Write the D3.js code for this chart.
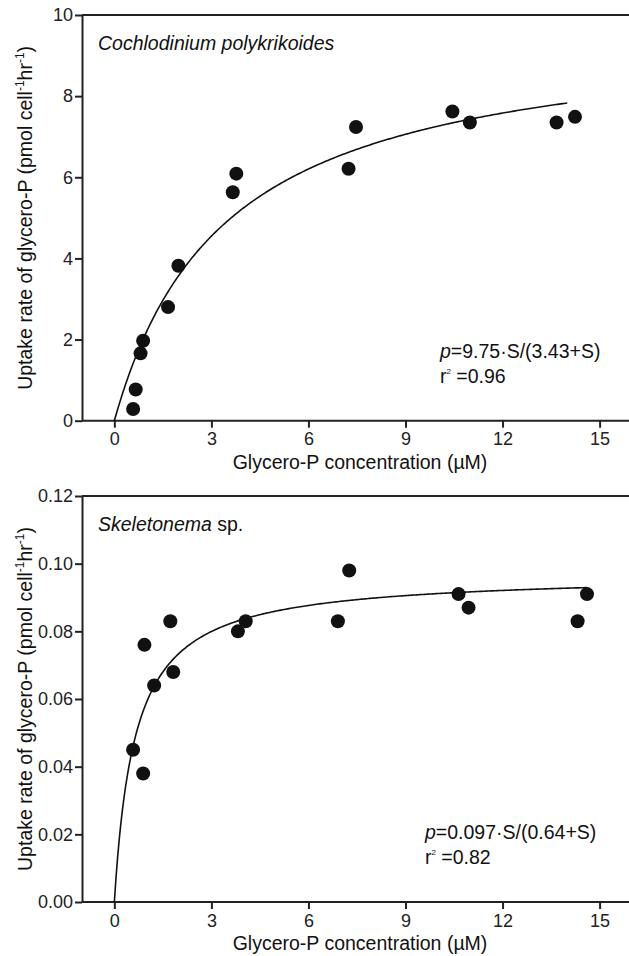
<!DOCTYPE html>
<html>
<head>
<meta charset="utf-8">
<script src="https://cdn.jsdelivr.net/npm/d3@7"></script>
<style>
  body { margin: 0; background: #fff; }
  svg { display: block; font-family: "Liberation Sans", Arial, sans-serif; }
  .axis path, .axis line { stroke: #222; stroke-width: 2; }
  .axis text { font-size: 18px; fill: #222; }
</style>
</head>
<body>
<svg id="chart" width="629" height="956"></svg>
<script>
// data
var xTicks = [0, 3, 6, 9, 12, 15];

// top panel: Cochlodinium polykrikoides
var cpConc = [0.58, 0.66, 0.81, 0.89, 1.66, 1.98, 3.66, 3.77, 7.24, 7.47, 10.45, 10.99, 13.67, 14.24];
var cpRate = [0.29, 0.77, 1.66, 1.97, 2.80, 3.82, 5.63, 6.09, 6.21, 7.24, 7.62, 7.35, 7.35, 7.49];
var cpFit = [9.75, 3.43];   // Vmax, Ks
var cpYTicks = [0, 2, 4, 6, 8, 10];

// bottom panel: Skeletonema sp.
var skConc = [0.58, 0.89, 0.93, 1.23, 1.73, 1.82, 3.82, 4.06, 6.91, 7.26, 10.64, 10.95, 14.32, 14.61];
var skRate = [0.045, 0.038, 0.076, 0.064, 0.083, 0.068, 0.080, 0.083, 0.083, 0.098, 0.091, 0.087, 0.083, 0.091];
var skFit = [0.097, 0.64];
var skYTicks = [0, 0.02, 0.04, 0.06, 0.08, 0.10, 0.12];

var svg = d3.select("#chart");
var fs = 19.5;

function panel(opt) {
  var g = svg.append("g");
  var x = d3.scaleLinear().domain([-1, 16]).range([82, 82 + 17 * 32.35]);
  var y = d3.scaleLinear().domain(opt.yDomain).range([opt.bottom, opt.top]);

  // top frame line
  g.append("line")
    .attr("x1", 82).attr("x2", 629)
    .attr("y1", opt.top).attr("y2", opt.top)
    .attr("stroke", "#222").attr("stroke-width", 2);

  g.append("g").attr("class", "axis")
    .attr("transform", "translate(0," + opt.bottom + ")")
    .call(d3.axisBottom(x).tickValues(xTicks).tickSize(7).tickSizeOuter(0).tickPadding(5))
    .call(function(s) { s.select(".domain").attr("d", "M82,0H629"); });

  g.append("g").attr("class", "axis")
    .attr("transform", "translate(82,0)")
    .call(d3.axisLeft(y).tickValues(opt.yTicks).tickFormat(opt.fmt).tickSize(7).tickSizeOuter(0).tickPadding(2));

  // fitted curve p = Vmax*S/(Ks+S)
  var fitS = d3.range(0, opt.fitEnd + 0.001, 0.05);
  var line = d3.line()
    .x(function(s) { return x(s); })
    .y(function(s) { return y(opt.fit[0] * s / (opt.fit[1] + s)); });
  g.append("path").datum(fitS)
    .attr("d", line)
    .attr("fill", "none").attr("stroke", "#111").attr("stroke-width", 1.6);

  g.selectAll("circle").data(opt.xs)
    .enter().append("circle")
    .attr("cx", function(d) { return x(d); })
    .attr("cy", function(d, i) { return y(opt.ys[i]); })
    .attr("r", 7)
    .attr("fill", "#111");

  // species label
  var sp = g.append("text").attr("x", 98).attr("y", opt.top + 35)
    .attr("font-size", fs).attr("fill", "#111");
  sp.append("tspan").attr("font-style", "italic").text(opt.species);
  if (opt.suffix) sp.append("tspan").text(opt.suffix);

  // equation
  var eq = g.append("text").attr("x", opt.eqX).attr("y", opt.bottom - 63)
    .attr("font-size", fs).attr("fill", "#111");
  eq.append("tspan").attr("font-style", "italic").text("p");
  eq.append("tspan").text(opt.eq);
  var r2 = g.append("text").attr("x", opt.eqX).attr("y", opt.bottom - 38)
    .attr("font-size", fs).attr("fill", "#111");
  r2.append("tspan").text("r");
  r2.append("tspan").attr("font-size", 8).attr("dy", -9).text("2");
  r2.append("tspan").attr("dy", 9).text(" =" + opt.r2);

  // axis titles
  g.append("text")
    .attr("x", 360).attr("y", opt.bottom + 48)
    .attr("text-anchor", "middle").attr("font-size", fs).attr("fill", "#111")
    .text("Glycero-P concentration (\u00b5M)");

  var yt = g.append("text")
    .attr("transform", "translate(32," + ((opt.top + opt.bottom) / 2) + ") rotate(-90)")
    .attr("text-anchor", "middle").attr("font-size", fs).attr("fill", "#111");
  yt.append("tspan").text("Uptake rate of glycero-P (pmol cell");
  yt.append("tspan").attr("font-size", 12).attr("dy", -8).text("-1");
  yt.append("tspan").attr("dy", 8).text("hr");
  yt.append("tspan").attr("font-size", 12).attr("dy", -8).text("-1");
  yt.append("tspan").attr("dy", 8).text(")");
}

panel({
  top: 15, bottom: 420.7, yDomain: [0, 10], yTicks: cpYTicks, fmt: d3.format("d"),
  xs: cpConc, ys: cpRate, fit: cpFit, fitEnd: 14.0,
  species: "Cochlodinium polykrikoides", suffix: null,
  eqX: 440, eq: "=9.75\u00b7S/(3.43+S)", r2: "0.96"
});

panel({
  top: 496, bottom: 902, yDomain: [0, 0.12], yTicks: skYTicks, fmt: d3.format(".2f"),
  xs: skConc, ys: skRate, fit: skFit, fitEnd: 14.6,
  species: "Skeletonema", suffix: " sp.",
  eqX: 425, eq: "=0.097\u00b7S/(0.64+S)", r2: "0.82"
});
</script>
</body>
</html>
